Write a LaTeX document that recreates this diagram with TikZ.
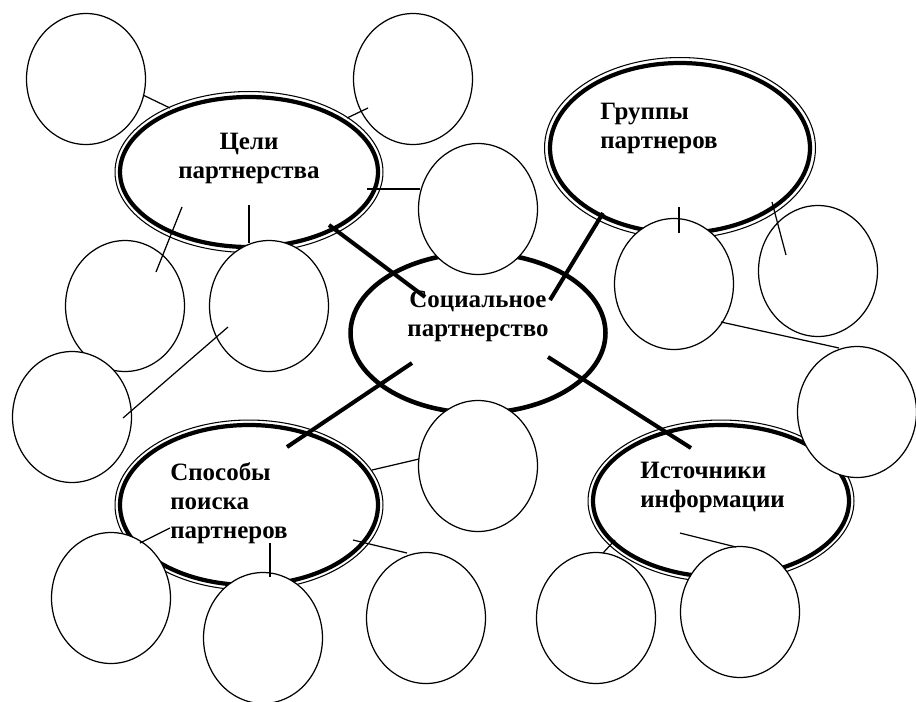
\documentclass[tikz,border=0pt]{standalone}
\usepackage{fontspec}
\setmainfont{Liberation Serif}
\usetikzlibrary{shapes.geometric,calc}

\begin{document}
\begin{tikzpicture}[x=0.02cm, y=-0.02cm,
	topic/.style={ellipse, draw, fill=white, line width=0.6pt, inner sep=0pt},
	rim/.style={line width=2.4pt},
	hub/.style={ellipse, draw, fill=white, line width=2.6pt, inner sep=0pt, minimum width=5.1cm, minimum height=3.2cm},
	blob/.style={ellipse, draw, fill=white, line width=0.7pt, inner sep=0pt, minimum width=2.38cm, minimum height=2.62cm},
	twig/.style={line width=0.7pt},
	spoke/.style={line width=2.3pt},
	word/.style={inner sep=0pt, font=\fontsize{14.2}{16.5}\selectfont\bfseries}]

\useasboundingbox (0,0) rectangle (916,701);

%% Themen (doppelter Rand)
\node[topic, minimum width=5.36cm, minimum height=3.22cm] (cel) at (249,172) {};
\draw[rim] (cel.center) ellipse [x radius=129, y radius=75];
\node[topic, minimum width=5.42cm, minimum height=3.62cm] (grp) at (680,148) {};
\draw[rim] (grp.center) ellipse [x radius=130, y radius=85];
\node[topic, minimum width=5.36cm, minimum height=3.40cm] (spo) at (249,505) {};
\draw[rim] (spo.center) ellipse [x radius=129, y radius=80];
\node[topic, minimum width=5.32cm, minimum height=3.24cm] (ist) at (721,501) {};
\draw[rim] (ist.center) ellipse [x radius=128, y radius=76];

%% Mitte
\node[hub] (soc) at (478,333) {};
%%%%%%%%%%%%%%%%

%% Kreise
\node[blob] (cel1) at (86,79) {};
\node[blob] (cel2) at (413,79) {};
\node[blob] (cel3) at (478,209) {};
\node[blob] (cel4) at (125,306) {};
\node[blob] (cel5) at (269,306) {};
\node[blob] (cel6) at (72,417) {};
\node[blob] (grp1) at (674,284) {};
\node[blob] (grp2) at (818,271) {};
\node[blob] (grp3) at (857,412) {};
\node[blob] (spo1) at (478,466) {};
\node[blob] (spo2) at (426,618) {};
\node[blob] (spo3) at (111,598) {};
\node[blob] (spo4) at (263,638) {};
\node[blob] (ist1) at (596,618) {};
\node[blob] (ist2) at (740,612) {};
%%%%%%%%%%%%%%%%

%% duenne Linien
\draw[twig] ($(cel1)+(57,16)$) -- ($(cel)+(-79,-64)$);
\draw[twig] ($(cel2)+(-45,29)$) -- ($(cel)+(98,-54)$);
\draw[twig] ($(cel)+(118,17)$) -- ($(cel3)+(-58,-20)$);
\draw[twig] ($(cel)+(-67,35)$) -- ($(cel4)+(31,-34)$);
\draw[twig] ($(cel)+(0,33)$) -- ($(cel5)+(-20,-63)$);
\draw[twig] ($(cel5)+(-41,21)$) -- ($(cel6)+(51,1)$);
\draw[twig] ($(grp)+(-1,59)$) -- ($(grp1)+(5,-51)$);
\draw[twig] ($(grp)+(92,54)$) -- ($(grp2)+(-32,-16)$);
\draw[twig] ($(grp1)+(47,38)$) -- ($(grp3)+(-18,-64)$);
\draw[twig] ($(spo)+(123,-35)$) -- ($(spo1)+(-59,-7)$);
\draw[twig] ($(spo)+(104,35)$) -- ($(spo2)+(-19,-65)$);
\draw[twig] ($(spo)+(-79,23)$) -- ($(spo3)+(29,-55)$);
\draw[twig] ($(spo)+(21,38)$) -- ($(spo4)+(7,-61)$);
\draw[twig] ($(ist)+(-106,39)$) -- ($(ist1)+(7,-65)$);
\draw[twig] ($(ist)+(-41,32)$) -- ($(ist2)+(-4,-65)$);

%% dicke Linien
\draw[spoke] ($(cel)+(80,53)$) -- ($(soc)+(-53,-36)$);
\draw[spoke] ($(soc)+(72,-33)$) -- ($(grp)+(-77,65)$);
\draw[spoke] ($(soc)+(-66,30)$) -- ($(spo)+(38,-58)$);
\draw[spoke] ($(soc)+(70,24)$) -- ($(ist)+(-30,-53)$);
%%%%%%%%%%%%%%%%

%% Texte
\node[word, align=center, anchor=north] (celtxt) at (249,133) {Цели\\партнерства};
\node[word, align=center, anchor=north] (soctxt) at (478,291) {Социальное\\партнерство};
\node[word, align=left, anchor=north west] (grptxt) at (600,103) {Группы\\партнеров};
\node[word, align=left, anchor=north west] (spotxt) at (170,462) {Способы\\поиска\\партнеров};
\node[word, align=left, anchor=north west] (isttxt) at (640,462) {Источники\\информации};

\end{tikzpicture}
\end{document}
